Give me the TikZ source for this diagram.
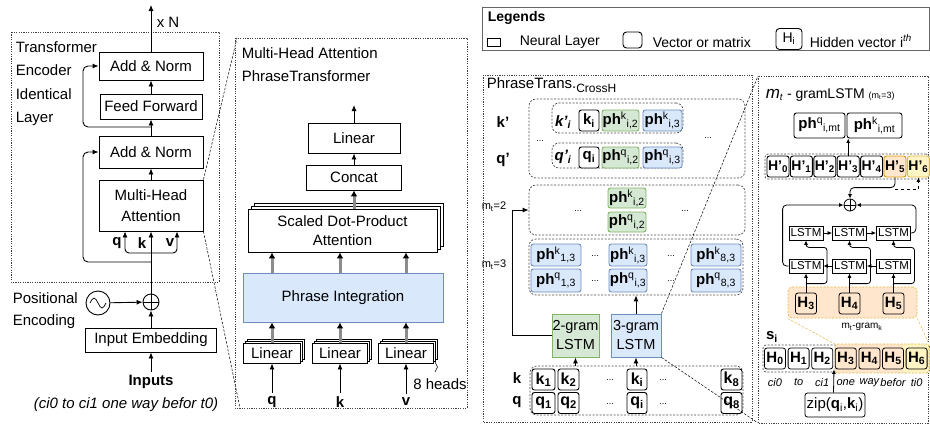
\documentclass[tikz,border=0pt]{standalone}
\usepackage{fontspec}
\setmainfont{Liberation Sans}
\usetikzlibrary{arrows.meta,shadows,calc,positioning,decorations.pathreplacing}
\definecolor{greenfill}{HTML}{D5E8D4}
\definecolor{greenline}{HTML}{82B366}
\definecolor{bluefill}{HTML}{DAE8FC}
\definecolor{blueline}{HTML}{6C8EBF}
\definecolor{orangefill}{HTML}{FFE6CC}
\definecolor{orangeline}{HTML}{D79B00}
\definecolor{yellowfill}{HTML}{FFF4C3}
\definecolor{yellowline}{HTML}{E0B84A}
\newcommand\fsz[2]{\fontsize{#1}{#2}\selectfont}
\newcommand\phbox[2]{\textbf{ph}\textsuperscript{#1}\textsubscript{#2}}

\tikzset{
  layer/.style={draw, fill=white, inner sep=0pt, align=center},
  vecbox/.style={draw, fill=white, rounded corners=2.5pt, inner sep=0pt},
  greenbox/.style={vecbox, fill=greenfill, draw=greenline},
  bluebox/.style={vecbox, fill=bluefill, draw=blueline},
  orangebox/.style={vecbox, fill=orangefill, draw=orangeline},
  yellowbox/.style={vecbox, fill=yellowfill, draw=yellowline},
  panel/.style={draw=black!75, line width=0.8pt, dash pattern=on 1.2pt off 1.2pt},
  grp/.style={draw=black!70, line width=0.7pt, dash pattern=on 2pt off 1.5pt, rounded corners=7pt},
  zoomline/.style={line width=0.5pt, dash pattern=on 2.5pt off 1.5pt},
  stacktwo/.style={double copy shadow={shadow xshift=2pt, shadow yshift=2pt}},
  stackthree/.style={double copy shadow={shadow xshift=3pt, shadow yshift=3pt}},
  multiarrow/.style={draw=black!45, line width=3pt, -{Latex[length=6pt,width=7pt,color=black]}},
  oplus/.style={draw, circle, inner sep=0pt, minimum size=#1,
    path picture={\draw (path picture bounding box.north) -- (path picture bounding box.south)
      (path picture bounding box.west) -- (path picture bounding box.east);}},
  dots/.style={font=\fsz{9}{10}},
  boldlab/.style={font=\bfseries\fsz{15}{18}},
}

\begin{document}
\begin{tikzpicture}[x=1pt, y=-1pt, line width=0.9pt, >={Latex[length=6pt,width=5pt]},
  every node/.style={font=\fsz{15}{18}}]
\useasboundingbox (0,0) rectangle (930,424);

% encoder layer
\draw[panel] (11,32) rectangle (219,282);
\node[anchor=north west, align=left, font=\fsz{15}{23.3}] (enctitle) at (12,38) {Transformer\\Encoder\\Identical\\Layer};
\node[layer, minimum width=104, minimum height=28] (addnorm2) at (151,66) {Add \& Norm};
\node[layer, minimum width=102, minimum height=25] (ffwd) at (151,106.5) {Feed Forward};
\node[layer, minimum width=104, minimum height=32] (addnorm1) at (151,152) {Add \& Norm};
\node[layer, minimum width=104, minimum height=51, font=\fsz{15}{21}] (mha) at (151,205.5) {Multi-Head\\Attention};
\coordinate (topout) at (151,5);
\node (xN) at (168,22) {x N};
\draw[->] (addnorm2) -- (topout);
\draw[->] (ffwd) -- (addnorm2);
\draw[->] (addnorm1) -- (ffwd);
\draw[->] (mha) -- (addnorm1);
\coordinate (skipA) at (151,127);
\coordinate (skipB) at (151,262);
\draw[->, rounded corners=5] (skipA) -- ++(-68,0) |- (addnorm2.west);
\draw[->, rounded corners=5] (skipB) -- ++(-68,0) |- (addnorm1.west);

\node[oplus=16] (plus) at (151,302) {};
\coordinate (branch) at (151,253);
\draw[->] (plus) -- (mha);
\draw[->, rounded corners=4] (branch) -| ($(mha.south)+(-26,0)$);
\draw[->, rounded corners=4] (branch) -| ($(mha.south)+(26,0)$);
\node[boldlab] (qin) at (117,243) {q};
\node[boldlab] (kin) at (142,243) {k};
\node[boldlab] (vin) at (170,243) {v};

\node[draw, circle, minimum size=24, inner sep=0pt] (posenc) at (98,303) {};
\draw[line width=0.7pt] ($(posenc)+(-8,0)$) sin ++(4,-5) cos ++(4,5) sin ++(4,5) cos ++(4,-5);
\node[anchor=north west, align=left, font=\fsz{15}{22}] (poslabel) at (9,289) {Positional\\Encoding};
\node[layer, minimum width=131, minimum height=24] (embed) at (151,340) {Input Embedding};
\draw[->] (posenc) -- (plus);
\draw[->] (embed) -- (plus);
\node[boldlab] (inputs) at (151,382) {Inputs};
\node[font=\itshape\fsz{15}{18}] (inputnote) at (126,405) {(ci0 to ci1 one way befor t0)};
\draw[->] (inputs) -- (embed);

% multi-head attention, zoomed
\coordinate (mhpTL) at (237,38);
\coordinate (mhpBL) at (240,408);
\draw[zoomline] (mha.north east) -- (mhpTL);
\draw[zoomline] (mha.south east) -- (mhpBL);
\draw[panel] (235,38) rectangle (467,408);
\node[anchor=north west, align=left, font=\fsz{15}{23}] (mhptitle) at (238,44) {Multi-Head Attention\\PhraseTransformer};
\node[layer, minimum width=92, minimum height=30] (linear) at (354,138) {Linear};
\node[layer, minimum width=95, minimum height=25] (concat) at (354,177.5) {Concat};
\node[layer, stackthree, minimum width=189, minimum height=43, font=\fsz{15}{19}] (sdpa) at (342.5,230.5) {Scaled Dot-Product\\Attention};
\node[layer, fill=bluefill, draw=blueline, minimum width=200, minimum height=49] (phraseint) at (343,297.5) {Phrase Integration};
\node[layer, stacktwo, minimum width=57, minimum height=20] (linq) at (272,353) {Linear};
\node[layer, stacktwo, minimum width=55, minimum height=20] (link) at (340,353) {Linear};
\node[layer, stacktwo, minimum width=55, minimum height=20] (linv) at (406,353) {Linear};
\coordinate (mhpout) at (354,105);
\draw[->] (linear) -- (mhpout);
\draw[->] (concat) -- (linear);
\draw[multiarrow] (sdpa.north -| concat) -- (concat);
\foreach \n in {linq,link,linv}{
  \draw[multiarrow] (\n) -- (\n |- phraseint.south);
  \draw[multiarrow] (\n |- phraseint.north) -- (\n |- sdpa.south);
}
\node[boldlab] (mq) at (272,402) {q};
\node[boldlab] (mk) at (340,402) {k};
\node[boldlab] (mv) at (406,402) {v};
\draw[->] (mq) -- (linq);
\draw[->] (mk) -- (link);
\draw[->] (mv) -- (linv);
\node (heads) at (440,384) {8 heads};
\draw[line width=0.6pt, decorate, decoration={brace, amplitude=2.5pt}] (435,362) -- (435,372);

% legend
\draw[draw=black!60, line width=1pt] (482,7) rectangle (929.5,50);
\node[anchor=west, font=\bfseries\fsz{14}{16}] (legtitle) at (484,18) {Legends};
\node[draw, minimum width=13, minimum height=8, inner sep=0pt] (legnl) at (494,42) {};
\node[anchor=west, font=\fsz{14}{16}] (legnltxt) at (516,42) {Neural Layer};
\node[vecbox, rounded corners=3.5pt, minimum width=19, minimum height=16] (legvec) at (632.5,40) {};
\node[anchor=west, font=\fsz{14}{16}] (legvectxt) at (649,42) {Vector or matrix};
\node[vecbox, rounded corners=3.5pt, minimum width=26, minimum height=21, font=\fsz{14}{16}] (leghid) at (789,39) {H\textsubscript{i}};
\node[anchor=west, font=\fsz{14}{16}] (leghidtxt) at (806,41) {Hidden vector i\textsuperscript{\itshape th}};

% PhraseTrans cross heads
\draw[panel] (483,75) rectangle (752,422);
\node[anchor=west] (pttitle) at (483,85) {PhraseTrans.\raisebox{-4pt}{\fsz{12}{14}CrossH}};
\node[grp, minimum width=216, minimum height=79] (grpA) at (637,138.5) {};
\node[grp, minimum width=131, minimum height=30] (grpAk) at (617.5,118) {};
\node[grp, minimum width=131, minimum height=25] (grpAq) at (617.5,155.5) {};
\node[boldlab] (kprime) at (503,122) {k'};
\node[boldlab] (qprime) at (503,160) {q'};
\node[font=\bfseries\itshape\fsz{15}{18}] (kpi) at (563,122) {k'\textsubscript{i}};
\node[font=\bfseries\itshape\fsz{15}{18}] (qpi) at (563,157) {q'\textsubscript{i}};
\node[vecbox, minimum width=20, minimum height=21, font=\bfseries\fsz{15}{18}] (kiA) at (589,120.5) {k\textsubscript{i}};
\node[greenbox, minimum width=37, minimum height=21] (phkA2) at (620.5,120.5) {\phbox{k}{i,2}};
\node[bluebox, minimum width=39, minimum height=21] (phkA3) at (662.5,120.5) {\phbox{k}{i,3}};
\node[vecbox, minimum width=20, minimum height=21, font=\bfseries\fsz{15}{18}] (qiA) at (589,157.5) {q\textsubscript{i}};
\node[greenbox, minimum width=37, minimum height=21] (phqA2) at (620.5,157.5) {\phbox{q}{i,2}};
\node[bluebox, minimum width=39, minimum height=21] (phqA3) at (662.5,157.5) {\phbox{q}{i,3}};
\node[dots] (dotA1) at (540,141) {...};
\node[dots] (dotA2) at (708,138) {...};

\node[grp, minimum width=216, minimum height=50] (grpB) at (637,210) {};
\node[greenbox, minimum width=38, minimum height=20] (phkB) at (627,198) {\phbox{k}{i,2}};
\node[greenbox, minimum width=38, minimum height=20] (phqB) at (627,222) {\phbox{q}{i,2}};
\node[dots] (dotB1) at (578,211) {...};
\node[dots] (dotB2) at (685,211) {...};

\node[grp, minimum width=214, minimum height=56] (grpC) at (636,267) {};
\foreach \nm/\x/\w/\s in {1/556/50/1, i/628/38/i, 8/716/50/8}{
  \node[bluebox, minimum width=\w, minimum height=22] (phkC\nm) at (\x,255) {\phbox{k}{\s,3}};
  \node[bluebox, minimum width=\w, minimum height=23] (phqC\nm) at (\x,280.5) {\phbox{q}{\s,3}};
}
\foreach \x in {595,671}{
  \node[dots] at (\x,256) {...};
  \node[dots] at (\x,281) {...};
}

\node[layer, fill=greenfill, draw=greenline, minimum width=47, minimum height=43, font=\fsz{14.5}{19}] (lstm2) at (575.5,335.5) {2-gram\\LSTM};
\node[layer, fill=bluefill, draw=blueline, minimum width=50, minimum height=43, font=\fsz{14.5}{19}] (lstm3) at (636,335.5) {3-gram\\LSTM};

\node[grp, minimum width=213, minimum height=49] (grpD) at (636.5,390.5) {};
\node[boldlab] (klab) at (517,378) {k};
\node[boldlab] (qlab) at (517,402) {q};
\foreach \nm/\x/\w in {1/543.5/23, 2/568.5/21, i/637/20, 8/731.5/21}{
  \node[vecbox, minimum width=\w, minimum height=21, font=\bfseries\fsz{16}{18}] (k\nm) at (\x,379.5) {k\textsubscript{\nm}};
  \node[vecbox, minimum width=\w, minimum height=21, font=\bfseries\fsz{16}{18}] (q\nm) at (\x,403) {q\textsubscript{\nm}};
}
\foreach \x in {610,663}{
  \node[dots] at (\x,380) {...};
  \node[dots] at (\x,404) {...};
}
\draw[->] (lstm3) -- (grpC);
\draw[->] (grpD.north -| lstm2) -- (lstm2);
\draw[->] (grpD.north -| lstm3) -- (lstm3);
\draw[->] (lstm2.west) -- ++(-39,0) |- (grpB.west);
\node[font=\fsz{11}{12}] (mttwo) at (494,207) {m\textsubscript{t}=2};
\node[font=\fsz{11}{12}] (mtthree) at (494,265) {m\textsubscript{t}=3};

% m_t-gram LSTM, zoomed
\coordinate (gmTL) at (758,76);
\coordinate (gmBL) at (758,423);
\draw[zoomline] (lstm3.north east) -- (gmTL);
\draw[zoomline] (lstm3.south east) -- (gmBL);
\draw[panel] (758,76) rectangle (928,423);
\node[anchor=west, font=\fsz{14}{16}] (gltitle) at (762,95) {{\fsz{17}{18}\itshape m}\textsubscript{\itshape t} - gramLSTM {\fsz{9}{10}(m\textsubscript{t}=3)}};
\node[vecbox, minimum width=51, minimum height=25] (phqmt) at (819.5,125.5) {\textbf{ph}\textsuperscript{q}\textsubscript{i,mt}};
\node[vecbox, minimum width=55, minimum height=25] (phkmt) at (874.5,125.5) {\textbf{ph}\textsuperscript{k}\textsubscript{i,mt}};
\node[grp, rounded corners=3pt, minimum width=164, minimum height=25] (grpHp) at (847,166.5) {};
\foreach \j/\st in {0/vecbox,1/vecbox,2/vecbox,3/vecbox,4/vecbox,5/orangebox,6/yellowbox}{
  \node[\st, minimum width=22, minimum height=21, font=\bfseries\fsz{14}{16}] (hp\j) at ({778+23.4*\j},166.5) {H'\textsubscript{\j}};
}
\begin{scope}[>={Latex[length=4.5pt,width=4pt]}, line width=0.8pt]
\draw[->] (hp3.north) -- (hp3.north |- phqmt.south);
\node[oplus=12] (merge) at (850,205) {};
\draw[->, rounded corners=4] (hp5.south) |- ($(merge.north)+(0,-11)$) -- (merge.north);
\draw[->, dashed] ($(hp5.south)+(0,12)$) -| (hp6.south);

\node[grp, fill=orangefill, draw=yellowline, rounded corners=4pt, minimum width=129, minimum height=31] (grpHin) at (852.5,302.5) {};
\foreach \j/\x/\h in {1/806/3, 2/849.5/4, 3/893.5/5}{
  \node[layer, minimum width=34, minimum height=14, font=\fsz{11.5}{12}] (fw\j) at (\x,233) {LSTM};
  \node[layer, minimum width=34, minimum height=14, font=\fsz{11.5}{12}] (bw\j) at (\x,266) {LSTM};
  \node[vecbox, fill=none, minimum width=21, minimum height=21, font=\bfseries\fsz{15}{18}] (hin\j) at (\x,303.5) {H\textsubscript{\h}};
}
\draw[->] (fw1) -- (fw2);
\draw[->] (fw2) -- (fw3);
\draw[->] (bw3) -- (bw2);
\draw[->] (bw2) -- (bw1);
\foreach \j in {1,2,3}{
  \draw[->] (hin\j) -- (bw\j);
  \draw[->, rounded corners=3] ($(hin\j.north)+(0,-9)$) -- ++(21,0) |- ($(fw\j.south)+(0,7)$) -- (fw\j.south);
}
\draw[->, rounded corners=4] (bw1.west) -- ++(-6,0) |- (merge.west);
\draw[->, rounded corners=4] (fw3.east) -- ++(5,0) |- (merge.east);
\node[font=\fsz{10}{11}] (mgramk) at (862,327) {m\textsubscript{t}-gram\textsubscript{k}};

% sentence s_i
\node[boldlab] (silab) at (772,337) {s\textsubscript{i}};
\node[grp, rounded corners=3pt, minimum width=167, minimum height=27] (grpS) at (846.5,358.5) {};
\fill[orangefill] (835,344) rectangle (903,373);
\fill[yellowfill] (903,344) rectangle (929,373);
\draw[yellowline, line width=0.7pt, dash pattern=on 2pt off 1.5pt, rounded corners=3pt] (835,344) rectangle (929,373);
\coordinate (hlTL) at (835,344);
\coordinate (hlTR) at (929,344);
\draw[zoomline, draw=yellowline] (grpHin.south west) -- (hlTL);
\draw[zoomline, draw=yellowline] (grpHin.south east) -- (hlTR);
\foreach \j/\w in {0/ci0,1/to,2/ci1,3/one,4/way,5/befor,6/ti0}{
  \node[vecbox, fill=none, minimum width=21, minimum height=21, font=\bfseries\fsz{15}{18}] (hs\j) at ({775+23.6*\j},358.5) {H\textsubscript{\j}};
  \node[font=\itshape\fsz{11}{12}] (wd\j) at ($(hs\j.south)+(0,13)$) {\w};
}
\node[vecbox, minimum width=60, minimum height=24] (zip) at (835,405) {zip(\textbf{q}\textsubscript{i},\textbf{k}\textsubscript{i})};
\draw[->] ($(zip.north)+(-1.5,0)$) -- ($(hs2.south east)!0.5!(hs3.south west)$);
\end{scope}
\end{tikzpicture}
\end{document}
